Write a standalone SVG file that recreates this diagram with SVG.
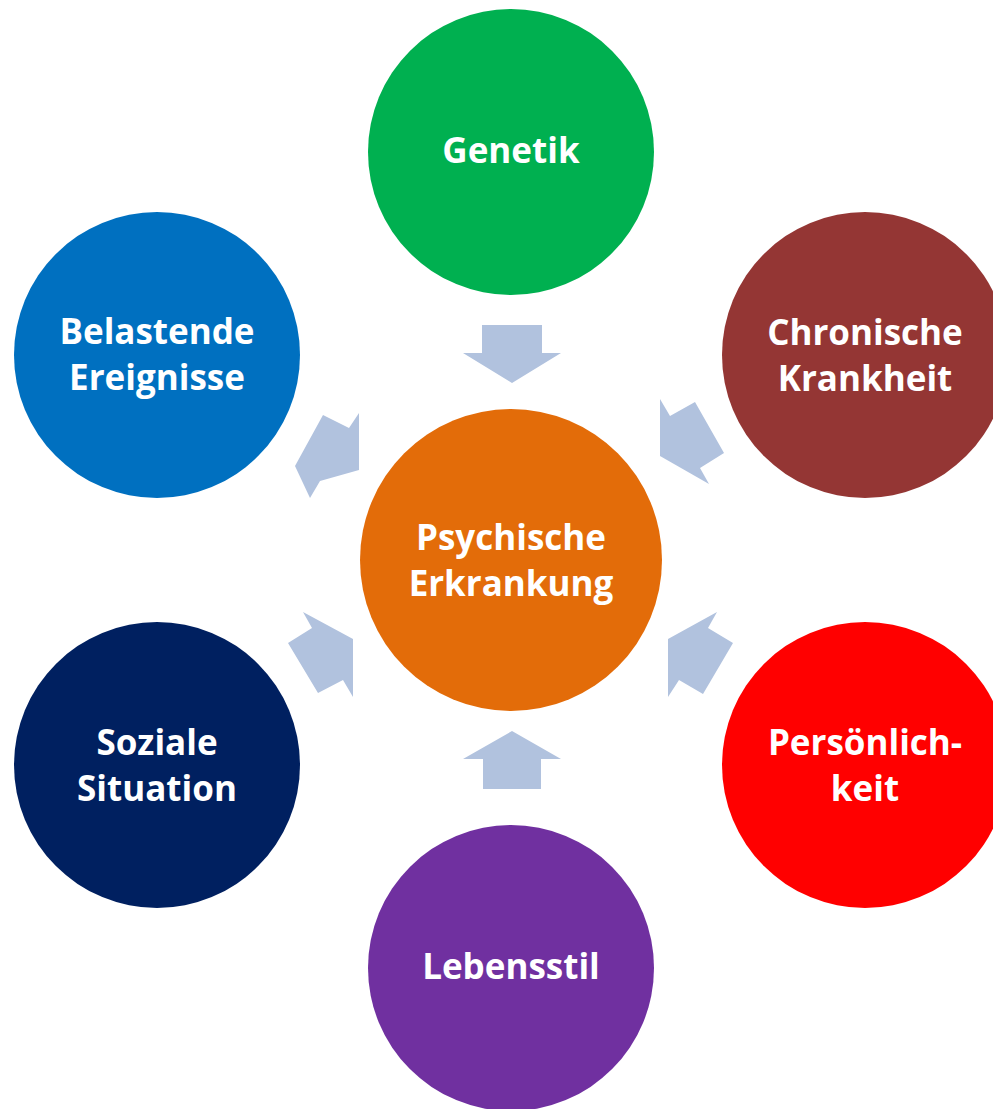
<svg xmlns="http://www.w3.org/2000/svg" width="993" height="1109" viewBox="0 0 993 1109">
<style>
.lbl{font-family:"Open Sans","Liberation Sans",sans-serif;font-weight:bold;font-size:35px;fill:#ffffff;text-anchor:middle}
.arr{fill:#B1C2DE}
</style>
<rect width="993" height="1109" fill="#ffffff"/>
<g id="connectors">
<polygon class="arr" points="482,325 542,325 542,353 561,353 512,383 463,353 482,353"/>
<polygon class="arr" points="660,399 670,416 695,402 724,453 700,468 709,484 660,456"/>
<polygon class="arr" points="323,415 349,428 359,413 359,470 320,481 310,498 295,466"/>
<polygon class="arr" points="303,612 312,628 288,643 318,693 343,680 353,697 353,639"/>
<polygon class="arr" points="717,612 708,628 733,643 703,694 679,680 668,697 668,639"/>
<polygon class="arr" points="512,731 561,759 541,759 541,789 483,789 483,759 463,759"/>
</g>
<g id="genetik">
<circle cx="511" cy="152" r="143" fill="#00B050"/>
<text class="lbl" x="511" y="163">Genetik</text>
</g>
<g id="chronische">
<circle cx="865" cy="355" r="143" fill="#943634"/>
<text class="lbl" x="865" y="345">Chronische</text>
<text class="lbl" x="865" y="391">Krankheit</text>
</g>
<g id="belastende">
<circle cx="157" cy="355" r="143" fill="#0070C0"/>
<text class="lbl" x="157" y="344">Belastende</text>
<text class="lbl" x="157" y="390">Ereignisse</text>
</g>
<g id="psychische">
<circle cx="511" cy="560" r="151" fill="#E36C09"/>
<text class="lbl" x="511" y="550">Psychische</text>
<text class="lbl" x="511" y="596">Erkrankung</text>
</g>
<g id="soziale">
<circle cx="157" cy="765" r="143" fill="#002060"/>
<text class="lbl" x="157" y="755">Soziale</text>
<text class="lbl" x="157" y="801">Situation</text>
</g>
<g id="persoenlichkeit">
<circle cx="865" cy="765" r="143" fill="#FF0000"/>
<text class="lbl" x="865" y="755">Persönlich-</text>
<text class="lbl" x="865" y="801">keit</text>
</g>
<g id="lebensstil">
<circle cx="511" cy="968" r="143" fill="#7030A0"/>
<text class="lbl" x="511" y="979">Lebensstil</text>
</g>
</svg>
